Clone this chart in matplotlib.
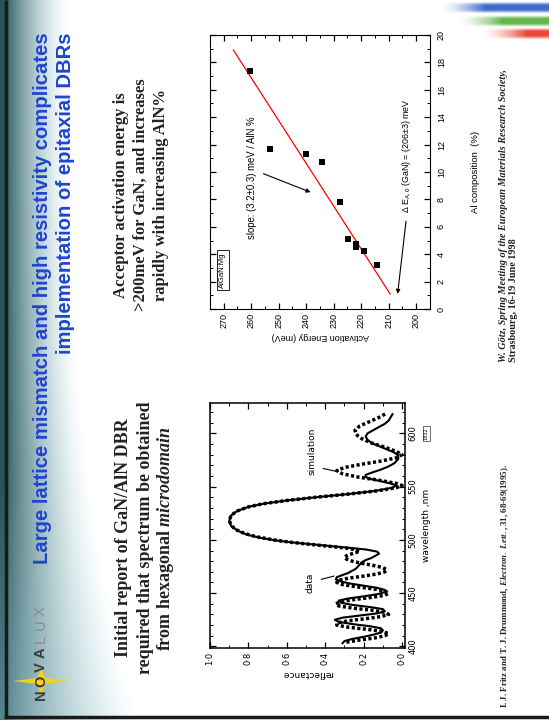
import numpy as np
import matplotlib
matplotlib.use('Agg')
import matplotlib.pyplot as plt
from matplotlib.ticker import MultipleLocator
from matplotlib.patches import Polygon

plt.rcParams['mathtext.fontset'] = 'custom'
plt.rcParams['mathtext.rm'] = 'Liberation Sans'
plt.rcParams['mathtext.it'] = 'Liberation Serif:italic:bold'
plt.rcParams['mathtext.bf'] = 'Liberation Serif:bold'

# ---------------- data: left chart (reflectance spectra) ----------------
data_wl = [403, 405, 407, 409, 411, 413, 415, 417, 419, 421, 423, 425, 427, 429, 431,
           433, 435, 437, 439, 441, 443, 445, 447, 449, 451, 453, 455, 457, 459, 461,
           463, 465, 467, 469, 471, 473, 475, 477, 479, 481, 483, 485, 487, 489, 491,
           493, 495, 497, 499, 502, 505, 509, 513, 518, 523, 527, 531, 534, 537, 540,
           543, 546, 549, 551, 553, 555, 557, 559, 561, 563, 566, 569, 572, 576, 579,
           582, 585, 588, 591, 594, 597, 600, 603, 606, 609, 612, 615, 618]
data_refl = [0.31, 0.30, 0.26, 0.20, 0.15, 0.11, 0.10, 0.11, 0.17, 0.26, 0.33, 0.35, 0.31, 0.22, 0.13,
             0.09, 0.10, 0.17, 0.26, 0.32, 0.33, 0.28, 0.20, 0.13, 0.09, 0.09, 0.13, 0.20, 0.27, 0.32,
             0.345, 0.34, 0.31, 0.28, 0.26, 0.24, 0.23, 0.22, 0.21, 0.19, 0.16, 0.14, 0.12, 0.13, 0.19,
             0.30, 0.42, 0.54, 0.64, 0.74, 0.81, 0.86, 0.89, 0.90, 0.89, 0.86, 0.80, 0.72, 0.60, 0.45,
             0.28, 0.14, 0.05, 0.03, 0.06, 0.11, 0.16, 0.19, 0.19, 0.16, 0.11, 0.07, 0.04, 0.02, 0.02,
             0.04, 0.08, 0.12, 0.16, 0.18, 0.19, 0.18, 0.15, 0.12, 0.09, 0.07, 0.06, 0.05]
sim_wl = [404, 406, 408, 410, 412, 414, 416, 418, 420, 422, 424, 426, 428, 430, 432,
          434, 436, 438, 440, 442, 444, 446, 448, 450, 452, 454, 456, 458, 460, 462,
          464, 466, 468, 470, 472, 474, 476, 478, 480, 482, 484, 486, 488, 490, 492,
          494, 496, 498, 500, 503, 506, 510, 514, 518, 523, 527, 531, 534, 537, 540,
          543, 546, 549, 551, 553, 556, 559, 562, 565, 568, 571, 574, 577, 580, 583,
          587, 591, 595, 599, 603, 607, 611, 615, 619]
sim_refl = [0.29, 0.22, 0.14, 0.09, 0.07, 0.10, 0.18, 0.28, 0.34, 0.34, 0.28, 0.19, 0.11, 0.07, 0.09,
            0.16, 0.26, 0.33, 0.345, 0.32, 0.25, 0.16, 0.09, 0.07, 0.09, 0.15, 0.24, 0.31, 0.34, 0.33,
            0.28, 0.20, 0.13, 0.09, 0.08, 0.10, 0.15, 0.21, 0.26, 0.29, 0.30, 0.28, 0.24, 0.22, 0.28,
            0.38, 0.49, 0.59, 0.67, 0.76, 0.82, 0.87, 0.89, 0.90, 0.89, 0.86, 0.80, 0.72, 0.60, 0.45,
            0.28, 0.13, 0.03, 0.0, 0.03, 0.12, 0.23, 0.31, 0.34, 0.30, 0.21, 0.11, 0.03, 0.0, 0.03,
            0.09, 0.16, 0.21, 0.24, 0.245, 0.22, 0.17, 0.12, 0.08]
refl_ticks = [0.0, 0.2, 0.4, 0.6, 0.8, 1.0]
refl_labels = ['0·0', '0·2', '0·4', '0·6', '0·8', '1·0']
wl_ticks = [400, 450, 500, 550, 600]
wl_labels = ['400', '450', '500', '550', '600']

# ---------------- data: right chart (activation energy) ----------------
al_pct = [17.35, 11.7, 11.35, 10.75, 7.8, 5.1, 4.75, 4.5, 4.2, 3.2]
act_energy = [260.3, 253.0, 240.0, 234.1, 227.9, 224.9, 221.9, 221.9, 219.0, 214.1]
fit_al = [1.1, 18.9]
fit_energy = [209.5, 266.5]
energy_ticks = [200, 210, 220, 230, 240, 250, 260, 270]
al_ticks = [0, 2, 4, 6, 8, 10, 12, 14, 16, 18, 20]

# ---------------- figure ----------------
W, H = 549, 720
fig = plt.figure(figsize=(W / 100, H / 100), dpi=100)
fig.patch.set_facecolor('white')

bg = fig.add_axes([0, 0, 1, 1])
bg.set_xlim(0, W)
bg.set_ylim(H, 0)
bg.axis('off')

# left title band gradient
yy, xx = np.mgrid[0:H, 0:150] + 0.5
w = 62 + 70 * (yy / H) ** 3
t = np.clip((xx - 6) / w, 0, 1)
dark = np.array([0.15, 0.33, 0.35])
light = np.array([0.78, 0.90, 0.92])
low = np.clip((yy - 480) / 240, 0, 1)
dark2 = dark * (1 - 0.45 * low[..., None]) + np.array([0.55, 0.75, 0.80]) * 0.45 * low[..., None]
mix = (t ** 0.6)[..., None]
rgb = dark2 * (1 - mix) + light * mix
alpha = 1 - t ** 1.6
band = np.dstack([rgb, alpha])
bg.imshow(band, extent=(0, 150, H, 0), aspect='auto', interpolation='bilinear', zorder=0)

# top-right colour streaks
def streak(yc, hw, xstart, color):
    sy, sx = np.mgrid[0:50, 0:150] + 0.5
    xpix = 399 + sx
    fade = np.clip((xpix - xstart) / 45.0, 0, 1) ** 1.5
    a = fade * np.exp(-((sy - yc) / hw) ** 4)
    img = np.zeros((50, 150, 4))
    img[..., :3] = color
    img[..., 3] = np.clip(a, 0, 1)
    bg.imshow(img, extent=(399, 549, 50, 0), aspect='auto', interpolation='bilinear', zorder=1)

streak(7.5, 4.5, 440, (0.24, 0.42, 0.80))
streak(21, 4.5, 458, (0.38, 0.72, 0.28))
streak(33.5, 4.5, 482, (0.93, 0.26, 0.22))

# border
bg.plot([5.5, 5.5], [0, 717], color='#1a1a1a', lw=2.5, zorder=2, solid_capstyle='butt')
bg.plot([4.3, W], [716.5, 716.5], color='#1a1a1a', lw=2.5, zorder=2, solid_capstyle='butt')

# logo star + text
star = Polygon([[13, 681], [37, 678], [41, 667], [45, 678], [68, 681],
                [45, 684], [41, 696], [37, 684]], closed=True, fc='#f2d11c', ec='none', zorder=2)
bg.add_patch(star)
letters = ['N', 'O', 'V', 'A', 'L', 'U', 'X']
ly = [695, 681, 667, 653, 639, 625, 611]
for ch, yv in zip(letters, ly):
    bold = ch in 'NOVA'
    bg.text(41, yv, ch, rotation=90, ha='center', va='center', fontsize=10.5,
            family='Liberation Sans', fontweight='bold' if bold else 'normal',
            color='#3a3a3a' if bold else '#8a8a8a', zorder=3)

# title
title_col = '#1f45d0'
bg.text(43, 32, 'Large lattice mismatch and high resistivity complicates', rotation=90,
        ha='center', va='top', fontsize=14.6, family='Liberation Sans', fontweight='bold',
        color=title_col, zorder=3)
bg.text(66, 32, 'implementation of epitaxial DBRs', rotation=90,
        ha='center', va='top', fontsize=14.6, family='Liberation Sans', fontweight='bold',
        color=title_col, zorder=3)

# headings
hk = dict(rotation=90, ha='center', va='center', family='Liberation Serif',
          fontweight='bold', color='#222222', zorder=3)
bg.text(124, 538, 'Initial report of GaN/AlN DBR', fontsize=13, **hk)
bg.text(145, 538, 'required that spectrum be obtained', fontsize=13, **hk)
bg.text(166, 538, r'from hexagonal $\mathit{microdomain}$', fontsize=13, **hk)
bg.text(121, 195, 'Acceptor activation energy is', fontsize=12, **hk)
bg.text(141, 195, '>200meV for GaN, and increases', fontsize=12, **hk)
bg.text(161, 195, 'rapidly with increasing AlN%', fontsize=12, **hk)

# citations
ck = dict(rotation=90, ha='center', va='bottom', family='Liberation Serif',
          fontweight='bold', color='#222222', zorder=3)
bg.text(505, 708, r'I. J. Fritz and T. J. Drummond, $\mathit{Electron.\ Lett.}$, 31, 68-69(1995).',
        fontsize=6.4, **ck)
bg.text(503, 362, 'W. Götz, Spring Meeting of the European Materials Research Society,',
        style='italic', fontsize=7.3, **ck)
bg.text(514, 362, 'Strasbourg, 16-19 June 1998', fontsize=7.3, **ck)

# ---------------- left chart ----------------
axL = fig.add_axes([210 / W, 1 - 648 / H, (405 - 210) / W, (648 - 403) / H])
axL.set_facecolor('none')
axL.plot(sim_refl, sim_wl, color='black', lw=2.5, ls=(0, (0.9, 0.7)), solid_capstyle='butt')
axL.plot(data_refl, data_wl, color='black', lw=1.5)
axL.set_xlim(1.0, -0.015)
axL.set_ylim(398.5, 628.5)
axL.set_xticks(refl_ticks)
axL.set_xticklabels(refl_labels, rotation=90, family='DejaVu Sans')
axL.yaxis.tick_right()
axL.set_yticks(wl_ticks)
axL.set_yticklabels(wl_labels, rotation=90, va='center', family='DejaVu Sans')
axL.xaxis.set_minor_locator(MultipleLocator(0.1))
axL.yaxis.set_minor_locator(MultipleLocator(10))
axL.tick_params(which='both', direction='in', top=True, bottom=True, left=True, right=True)
axL.tick_params(which='major', length=4, width=0.9, labelsize=6, pad=2.5)
axL.tick_params(which='minor', length=2.2, width=0.7)
for s in axL.spines.values():
    s.set_linewidth(1.1)
axL.set_xlabel('reflectance', rotation=180, fontsize=6.5, labelpad=3, family='DejaVu Sans')
axL.yaxis.set_label_position('right')
axL.set_ylabel('wavelength ,nm', rotation=90, fontsize=6.5, labelpad=3, family='DejaVu Sans')
axL.text(0.48, 460, 'data', rotation=90, ha='center', va='center', fontsize=6.5)
axL.plot([0.42, 0.355], [463, 466], color='black', lw=0.8)
axL.text(0.47, 583, 'simulation', rotation=90, ha='center', va='center', fontsize=6.5)
axL.plot([0.41, 0.336], [567, 564], color='black', lw=0.8)
axL.text(-0.125, 600, '1832', rotation=90, ha='center', va='center', fontsize=3.5,
         bbox=dict(boxstyle='square,pad=0.2', fc='white', ec='black', lw=0.4), clip_on=False)

# ---------------- right chart ----------------
axR = fig.add_axes([210 / W, 1 - 309 / H, (430 - 210) / W, (309 - 35) / H])
axR.set_facecolor('none')
axR.plot(fit_energy, fit_al, color='red', lw=0.9)
axR.scatter(act_energy, al_pct, marker='s', s=22, color='black', zorder=3, linewidths=0)
axR.set_xlim(275, 195)
axR.set_ylim(0, 20)
axR.set_xticks(energy_ticks)
axR.set_xticklabels([str(v) for v in energy_ticks], rotation=90, family='Liberation Sans')
axR.yaxis.tick_right()
axR.set_yticks(al_ticks)
axR.set_yticklabels([str(v) for v in al_ticks], rotation=90, va='center', family='Liberation Sans')
axR.xaxis.set_minor_locator(MultipleLocator(5))
axR.yaxis.set_minor_locator(MultipleLocator(1))
axR.tick_params(which='both', direction='in', top=True, bottom=True, left=True, right=True)
axR.tick_params(which='major', length=4, width=0.9, labelsize=6.5)
axR.tick_params(axis='y', which='major', pad=5)
axR.tick_params(axis='x', which='major', pad=3)
axR.tick_params(which='minor', length=2.2, width=0.7)
axR.set_xlabel('Activation Energy (meV)', rotation=180, fontsize=6.5, labelpad=3,
               family='Liberation Sans')
axR.yaxis.set_label_position('right')
axR.set_ylabel('Al composition  (%)', rotation=90, fontsize=6.8, labelpad=18,
               family='Liberation Sans')
axR.text(270.3, 2.85, 'AlGaN:Mg', rotation=90, ha='center', va='center', fontsize=5.5,
         family='Liberation Sans',
         bbox=dict(boxstyle='square,pad=0.35', fc='white', ec='black', lw=0.6))
axR.text(259.8, 9.6, 'slope: (3.2±0.3) meV / AlN %', rotation=90, ha='center', va='center',
         fontsize=6.9, family='Liberation Sans')
axR.annotate('', xy=(237.5, 8.45), xytext=(256.5, 9.95),
             arrowprops=dict(arrowstyle='-|>', color='black', lw=0.8, mutation_scale=6))
axR.text(203.6, 11.2, r'$\Delta$ E$_{\mathrm{A,0}}$ (GaN) = (206±3) meV', rotation=90,
         ha='center', va='center', fontsize=6.4, family='Liberation Sans')
axR.annotate('', xy=(206.9, 0.9), xytext=(203.6, 6.6),
             arrowprops=dict(arrowstyle='-|>', color='black', lw=0.8, mutation_scale=6))

fig.savefig('out.png', dpi=100, facecolor='white')
